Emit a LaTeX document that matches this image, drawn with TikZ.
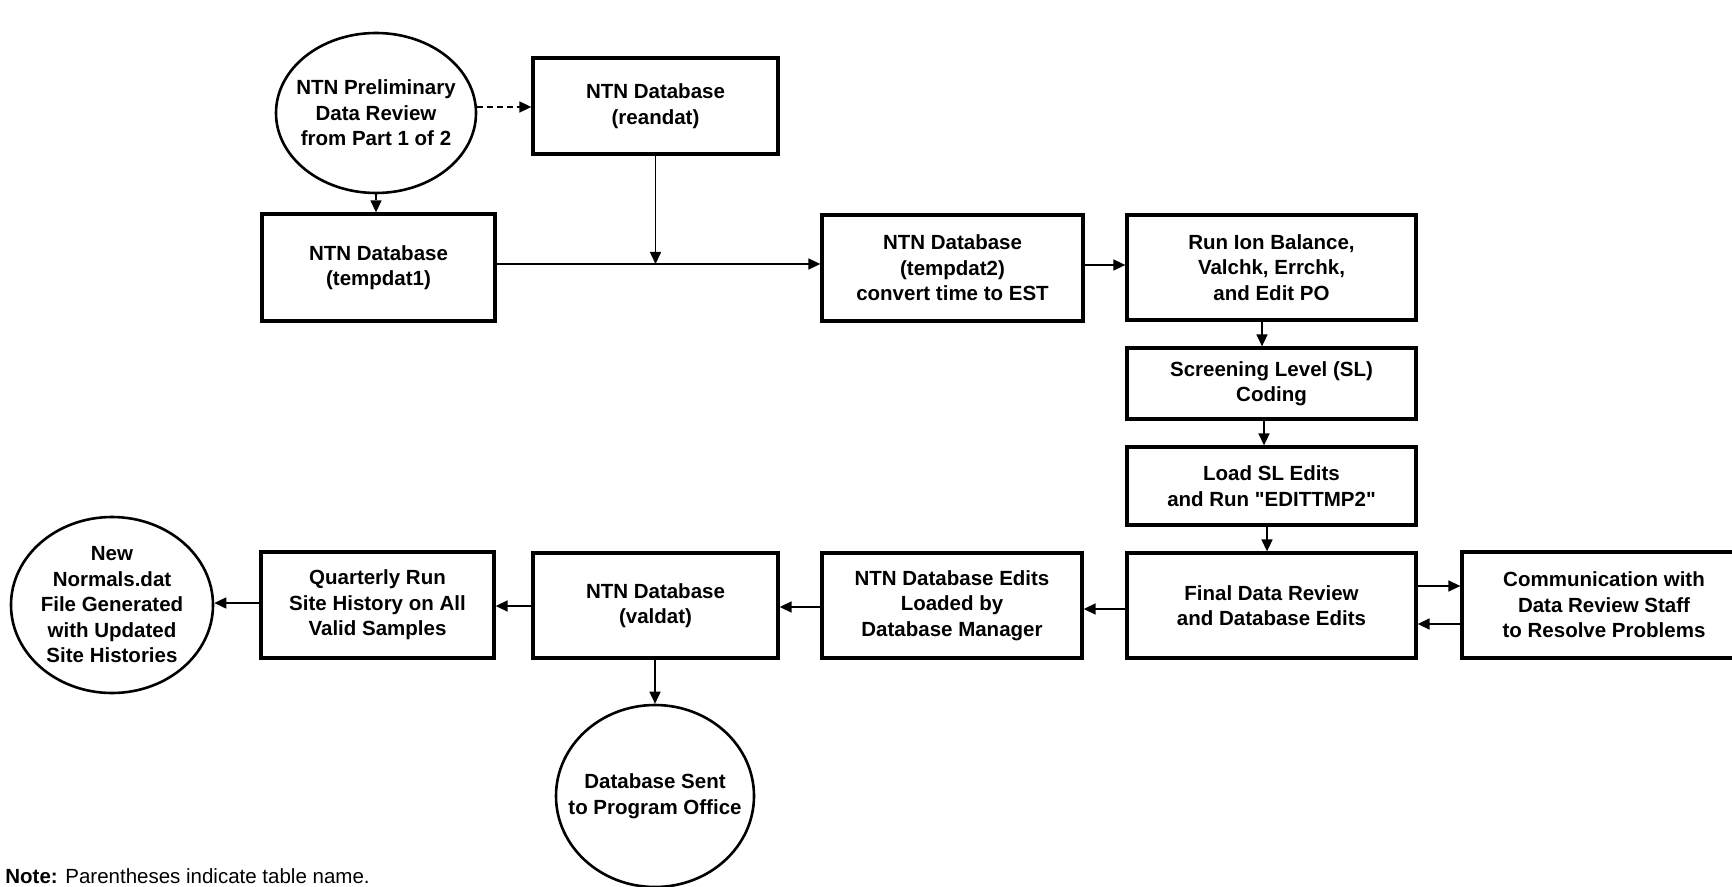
\documentclass[tikz,border=0pt]{standalone}
\usepackage{fontspec}
\setmainfont{Liberation Sans}
\usetikzlibrary{arrows.meta,shapes.geometric}
% plain ASCII double quote, bypassing the TeX ligature mapping
\newcommand\plainquote{\XeTeXglyph\XeTeXcharglyph"22\relax}

\begin{document}
\begin{tikzpicture}[
  x=0.5pt, y=-0.5pt,
  txt/.style={font=\bfseries\fontsize{10.25}{12.75}\selectfont, align=center, inner sep=0pt},
  stepbox/.style={txt, draw, rectangle, line width=1.65pt},
  oval/.style={txt, draw, ellipse, line width=1.3pt, inner xsep=-12pt, inner ysep=-2pt},
  arr/.style={-{Triangle[length=6pt,width=5.5pt]}, line width=0.8pt},
]
\clip (0,0) rectangle (1732,887);

% process boxes
\node[oval, minimum width=100pt, minimum height=80pt] (prelim) at (376,113)
  {NTN Preliminary\\Data Review\\from Part 1 of 2};
\node[stepbox, minimum width=122.5pt, minimum height=48pt] (reandat) at (655.5,106)
  {NTN Database\\(reandat)};
\node[stepbox, minimum width=116.5pt, minimum height=53.5pt] (tempdat1) at (378.5,267.5)
  {NTN Database\\(tempdat1)};
\node[stepbox, minimum width=130.5pt, minimum height=53pt] (tempdat2) at (952.5,268)
  {NTN Database\\(tempdat2)\\convert time to EST};
\node[stepbox, minimum width=144.5pt, minimum height=52.5pt] (runion) at (1271.5,267.5)
  {Run Ion Balance,\\Valchk, Errchk,\\and Edit PO};
\node[stepbox, minimum width=144.5pt, minimum height=35.5pt] (screen) at (1271.5,383.5)
  {Screening Level (SL)\\Coding};
\node[stepbox, minimum width=144.5pt, minimum height=39pt] (loadsl) at (1271.5,486)
  {Load SL Edits\\and Run \plainquote EDITTMP2\plainquote};
\node[stepbox, minimum width=144.5pt, minimum height=52.5pt] (final) at (1271.5,605.5)
  {Final Data Review\\and Database Edits};
\node[stepbox, minimum width=142pt, minimum height=53pt] (comm) at (1604,605)
  {Communication with\\Data Review Staff\\to Resolve Problems};
\node[stepbox, minimum width=130pt, minimum height=52.5pt] (edits) at (952,605.5)
  {NTN Database Edits\\Loaded by\\Database Manager};
\node[stepbox, minimum width=122.5pt, minimum height=52.5pt] (valdat) at (655.5,605.5)
  {NTN Database\\(valdat)};
\node[stepbox, minimum width=116.5pt, minimum height=53pt] (quarterly) at (377.5,605)
  {Quarterly Run\\Site History on All\\Valid Samples};
\node[oval, minimum width=101pt, minimum height=88pt] (normals) at (112,605)
  {New\\Normals.dat\\File Generated\\with Updated\\Site Histories};
\node[oval, minimum width=99pt, minimum height=91pt] (sent) at (655,796)
  {Database Sent\\to Program Office};

% note
\node[anchor=base west, inner sep=0pt, font=\fontsize{10.25}{12.75}\selectfont] (note) at (5,883)
  {\textbf{Note:} Parentheses indicate table name.};

% reference levels for connectors
\coordinate (rowdash) at (0,107);
\coordinate (rowmain) at (0,264);
\coordinate (rowion) at (0,265);
\coordinate (colA) at (1262,0);
\coordinate (colB) at (1264,0);
\coordinate (colC) at (1267,0);
\coordinate (rowout) at (0,586);
\coordinate (rowback) at (0,624);
\coordinate (rowfe) at (0,609);
\coordinate (rowev) at (0,607);
\coordinate (rowvq) at (0,606);
\coordinate (rowqn) at (0,603);
\coordinate (join) at (reandat.south |- rowmain);

% connectors
\draw[arr, dash pattern=on 3pt off 2pt] (prelim.east |- rowdash) -- (reandat.west |- rowdash);
\draw[arr, dash pattern=on 3pt off 2pt] (prelim.south) -- (tempdat1.north -| prelim.south);
\draw[arr] (reandat.south) -- (join);
\draw[arr] (tempdat1.east |- rowmain) -- (tempdat2.west |- rowmain);
\draw[arr] (tempdat2.east |- rowion) -- (runion.west |- rowion);
\draw[arr] (runion.south -| colA) -- (screen.north -| colA);
\draw[arr] (screen.south -| colB) -- (loadsl.north -| colB);
\draw[arr] (loadsl.south -| colC) -- (final.north -| colC);
\draw[arr] (final.east |- rowout) -- (comm.west |- rowout);
\draw[arr] (comm.west |- rowback) -- (final.east |- rowback);
\draw[arr] (final.west |- rowfe) -- (edits.east |- rowfe);
\draw[arr] (edits.west |- rowev) -- (valdat.east |- rowev);
\draw[arr] (valdat.west |- rowvq) -- (quarterly.east |- rowvq);
\draw[arr] (quarterly.west |- rowqn) -- (normals.east |- rowqn);
\draw[arr] (valdat.south -| sent.north) -- (sent.north);
\end{tikzpicture}
\end{document}
